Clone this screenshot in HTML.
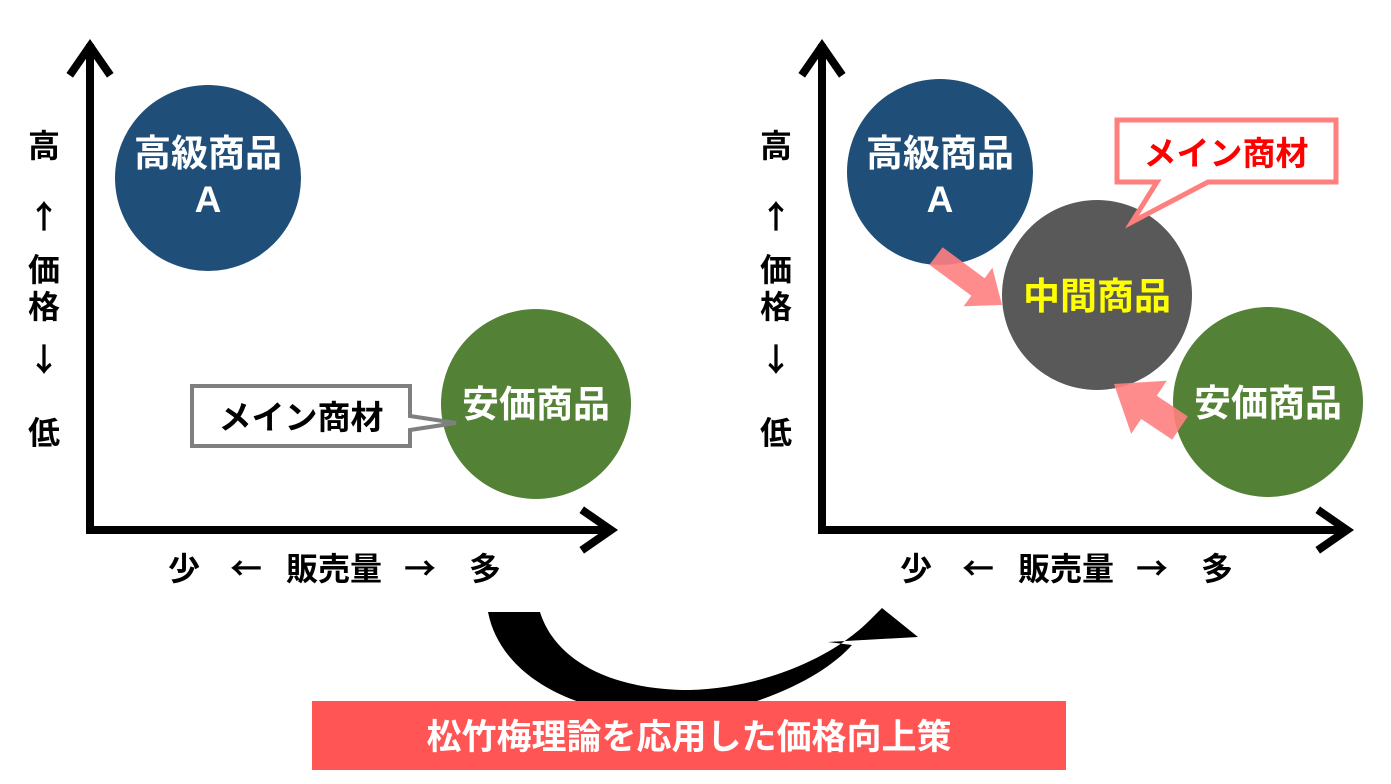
<!DOCTYPE html>
<html><head><meta charset="utf-8"><style>
body{margin:0;background:#fff}
svg{display:block}
text{font-family:"Liberation Sans","Noto Sans CJK JP",sans-serif;font-weight:bold}
.j{font-family:"Noto Sans CJK JP",sans-serif}
</style></head><body>
<svg width="1391" height="784" viewBox="0 0 1391 784">
<g stroke="#000" stroke-width="8" fill="none" stroke-linecap="square">
<line x1="90" y1="48" x2="90" y2="530"/>
<line x1="90" y1="530" x2="608" y2="530"/>
<polyline points="72,72 90,46 108,72"/>
<polyline points="585,512 611,530 585,548"/>
<line x1="822" y1="48" x2="822" y2="530"/>
<line x1="822" y1="530" x2="1344" y2="530"/>
<polyline points="804,72 822,46 840,72"/>
<polyline points="1321,512 1347,530 1321,548"/>
</g>
<g font-size="32" text-anchor="middle" fill="#000" class="j">
<text class="j" x="44" y="157">高</text><text class="j" x="44" y="228" font-weight="normal">↑</text><text class="j" x="44" y="281">価</text><text class="j" x="44" y="318">格</text><text class="j" x="44" y="371" font-weight="normal">↓</text><text class="j" x="44" y="444">低</text>
<text class="j" x="776" y="157">高</text><text class="j" x="776" y="228" font-weight="normal">↑</text><text class="j" x="776" y="281">価</text><text class="j" x="776" y="318">格</text><text class="j" x="776" y="371" font-weight="normal">↓</text><text class="j" x="776" y="444">低</text>
</g>
<g font-size="32" fill="#000" text-anchor="middle">
<text class="j" x="184" y="580">少</text><text class="j" x="246" y="580" font-weight="normal">←</text><text class="j" x="334" y="580">販売量</text><text class="j" x="420" y="580" font-weight="normal">→</text><text class="j" x="485" y="580">多</text>
<text class="j" x="916" y="580">少</text><text class="j" x="978" y="580" font-weight="normal">←</text><text class="j" x="1066" y="580">販売量</text><text class="j" x="1152" y="580" font-weight="normal">→</text><text class="j" x="1217" y="580">多</text>
</g>
<circle cx="208" cy="178" r="93" fill="#1f4e79"/>
<circle cx="536" cy="404" r="95" fill="#538135"/>
<g font-size="37" fill="#fff" text-anchor="middle">
<text x="208" y="166">高級商品</text><text x="208" y="212">A</text>
<text x="536" y="417">安価商品</text>
</g>
<path d="M192,386 H410 V416 L456,423 L410,430 V446 H192 Z" fill="#fff" stroke="#7f7f7f" stroke-width="4"/>
<text x="301" y="429" font-size="33" text-anchor="middle" fill="#000">メイン商材</text>
<circle cx="940" cy="172" r="93" fill="#1f4e79"/>
<circle cx="1268" cy="402" r="95" fill="#538135"/>
<circle cx="1097" cy="295" r="95" fill="#595959"/>
<g font-size="37" fill="#fff" text-anchor="middle">
<text x="940" y="166">高級商品</text><text x="940" y="212">A</text>
<text x="1268" y="416">安価商品</text>
</g>
<text x="1097" y="309" font-size="37" fill="#ffff00" text-anchor="middle">中間商品</text>
<polygon points="929.4,264.8 971.4,295.8 963.6,306.2 1002,305 992.4,267.8 984.6,278.2 942.6,247.2" fill="#ff7f7f" opacity="0.9"/>
<polygon points="1187.8,416.4 1156.8,395.7 1166.8,380.7 1114,384 1131.2,433.9 1141.2,418.9 1172.2,439.6" fill="#ff7f7f" opacity="0.9"/>
<path d="M1117,120 H1336 V182 H1208 L1132,222 L1157,182 H1117 Z" fill="#fff" stroke="#ff7f7f" stroke-width="5"/>
<text x="1226" y="165" font-size="33" text-anchor="middle" fill="#ff0000">メイン商材</text>
<path d="M488,612 C505,700 640,740 760,700 C805,684 835,664 852,645 L828,642 L918,637 L882,608 L870,620 C830,660 760,688 690,690 C610,690 555,660 540,612 Z" fill="#000"/>
<rect x="312" y="701" width="754" height="69" fill="#ff5555"/>
<text x="689" y="749" font-size="35" fill="#fff" text-anchor="middle">松竹梅理論を応用した価格向上策</text>
</svg>
</body></html>
